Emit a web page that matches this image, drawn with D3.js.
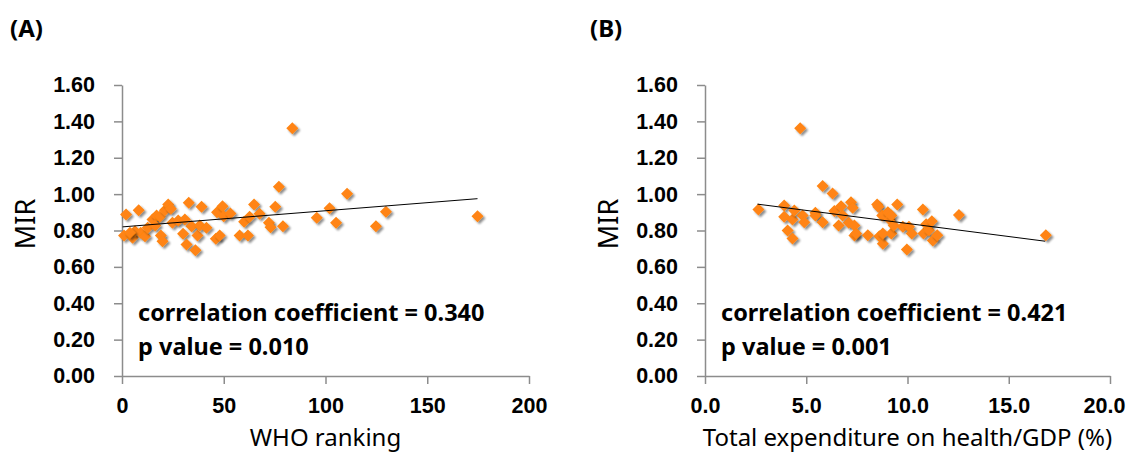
<!DOCTYPE html>
<html>
<head>
<meta charset="utf-8">
<script src="https://cdn.jsdelivr.net/npm/d3@7"></script>
<style>
  body { margin: 0; background: #fff; }
  svg { display: block; font-family: "Noto Sans", "Open Sans", sans-serif; }
  .tick text { font-weight: bold; font-size: 21.5px; fill: #000; }
  .domain, .tick line { stroke: #8c8c8c; stroke-width: 1.5px; }
</style>
</head>
<body>
<svg class="chart"></svg>
<script>
// Panel A: WHO ranking vs MIR
var whoRank = [2, 8.2, 1, 5.2, 6.4, 9.2, 11.3, 12.6, 15, 17, 16.3, 18.6, 19.1, 19.9, 21.1, 22.7, 24, 24.8,
    27.6, 30.9, 30, 31.7, 32.8, 34.2, 36.1, 37.1, 38.2, 39.1, 41.5, 46.1, 48, 46.7, 49.4, 50, 53.3, 57.8,
    61.9, 60, 62.7, 64.9, 67.6, 72.2, 73, 75.3, 77.1, 79.1, 83.7, 95.7, 102, 105.2, 110.6, 124.8, 129.7,
    174.7, 3.9];
var mirA = [0.888, 0.912, 0.772, 0.76, 0.796, 0.787, 0.769, 0.815, 0.861, 0.883, 0.828, 0.876, 0.772, 0.741,
    0.912, 0.943, 0.92, 0.842, 0.855, 0.861, 0.782, 0.723, 0.953, 0.824, 0.691, 0.772, 0.828, 0.93, 0.815,
    0.754, 0.772, 0.901, 0.934, 0.879, 0.894, 0.772, 0.772, 0.848, 0.876, 0.943, 0.892, 0.842, 0.818, 0.93,
    1.041, 0.824, 1.362, 0.87, 0.923, 0.842, 1.002, 0.824, 0.903, 0.879, 0.787];
var trendAX = [0.3, 174.7];
var trendAY = [0.82, 0.975];

// Panel B: total expenditure on health / GDP vs MIR
var thGdp = [2.64, 3.91, 3.91, 4.32, 4.41, 4.08, 4.32, 4.70, 4.82, 4.9, 5.45, 5.45, 5.81, 5.81, 6.3, 6.39,
    6.6, 6.72, 6.8, 7.21, 7.29, 7.1, 7.38, 7.38, 7.46, 8.04, 8.5, 8.56, 8.61, 8.78, 8.78, 8.75, 9.03, 9.11,
    9.2, 9.2, 9.32, 9.49, 9.77, 9.97, 10.07, 10.21, 10.76, 10.79, 10.92, 11.06, 11.2, 11.25, 11.47, 12.54, 16.83];
var mirB = [0.916, 0.938, 0.876, 0.861, 0.91, 0.8, 0.756, 1.362, 0.883, 0.846, 0.898, 0.883, 0.846, 1.045,
    1.004, 0.907, 0.828, 0.934, 0.883, 0.956, 0.925, 0.842, 0.828, 0.772, 0.783, 0.774, 0.943, 0.93, 0.769,
    0.727, 0.783, 0.883, 0.901, 0.861, 0.883, 0.783, 0.828, 0.943, 0.82, 0.695, 0.82, 0.783, 0.916, 0.783,
    0.834, 0.802, 0.851, 0.745, 0.774, 0.885, 0.774];
var trendBX = [2.59, 16.8];
var trendBY = [0.945, 0.741];

var yTicks = [0, 0.2, 0.4, 0.6, 0.8, 1.0, 1.2, 1.4, 1.6];
var xTicksA = [0, 50, 100, 150, 200];
var xTicksB = [0, 5, 10, 15, 20];

var svg = d3.select("svg.chart").attr("width", 1128).attr("height", 452);

var defs = svg.append("defs");
var shadow = defs.append("filter").attr("id", "shadow")
    .attr("x", "-50%").attr("y", "-50%").attr("width", "200%").attr("height", "200%");
shadow.append("feGaussianBlur").attr("in", "SourceAlpha").attr("stdDeviation", 1.2).attr("result", "b");
shadow.append("feOffset").attr("in", "b").attr("dx", 1.5).attr("dy", 1.5).attr("result", "o");
shadow.append("feComponentTransfer").attr("in", "o").attr("result", "s")
    .append("feFuncA").attr("type", "linear").attr("slope", 0.45);
var merge = shadow.append("feMerge");
merge.append("feMergeNode").attr("in", "s");
merge.append("feMergeNode").attr("in", "SourceGraphic");

function drawPanel(p) {
    var x = d3.scaleLinear().domain([p.xTicks[0], p.xTicks[p.xTicks.length - 1]]).range([p.left, p.right]);
    var y = d3.scaleLinear().domain([0, 1.6]).range([376, 85]);
    var g = svg.append("g");

    g.append("g").attr("transform", "translate(" + p.left + ",0)")
        .call(d3.axisLeft(y).tickValues(yTicks).tickFormat(d3.format(".2f")).tickSize(8).tickSizeOuter(0).tickPadding(19));
    var xAxis = g.append("g").attr("transform", "translate(0,376)")
        .call(d3.axisBottom(x).tickValues(p.xTicks).tickFormat(d3.format(p.fmt)).tickSize(8).tickSizeOuter(0).tickPadding(14));
    // keep the last tick label inside the page edge
    xAxis.selectAll(".tick text").filter(function (d, i, n) { return i === n.length - 1; })
        .attr("dx", p.lastDx || 0);

    var pts = p.xs.map(function (v, i) { return [v, p.ys[i]]; });
    g.selectAll("path.pt").data(pts).enter().append("path")
        .attr("class", "pt")
        .attr("d", "M0,-6L6,0L0,6L-6,0Z")
        .attr("transform", function (d) { return "translate(" + x(d[0]) + "," + y(d[1]) + ")"; })
        .attr("fill", "#ff8412")
        .attr("filter", "url(#shadow)");

    g.append("line")
        .attr("x1", x(p.tx[0])).attr("y1", y(p.ty[0]))
        .attr("x2", x(p.tx[1])).attr("y2", y(p.ty[1]))
        .attr("stroke", "#000").attr("stroke-width", 1);

    g.append("text").attr("x", p.panelX).attr("y", 37)
        .attr("font-weight", "bold").attr("font-size", 24).text(p.panel);
    g.append("text").attr("transform", "translate(" + p.mirX + ",224) rotate(-90)")
        .attr("text-anchor", "middle").attr("font-size", 27).text("MIR");
    g.append("text").attr("x", (p.left + p.right) / 2).attr("y", 446)
        .attr("text-anchor", "middle").attr("font-size", 24).text(p.xLabel);
    g.append("text").attr("x", p.left + 16).attr("y", 321)
        .attr("font-weight", "bold").attr("font-size", 23.5).text(p.r);
    g.append("text").attr("x", p.left + 16).attr("y", 355)
        .attr("font-weight", "bold").attr("font-size", 23.5).text(p.pv);
}

drawPanel({ left: 122, right: 529, xTicks: xTicksA, fmt: "d", xs: whoRank, ys: mirA, tx: trendAX, ty: trendAY,
    panel: "(A)", panelX: 10, mirX: 35, xLabel: "WHO ranking",
    r: "correlation coefficient = 0.340", pv: "p value = 0.010" });
drawPanel({ left: 705, right: 1110, xTicks: xTicksB, fmt: ".1f", xs: thGdp, ys: mirB, tx: trendBX, ty: trendBY,
    panel: "(B)", panelX: 590, mirX: 618, xLabel: "Total expenditure on health/GDP (%)", lastDx: -6,
    r: "correlation coefficient = 0.421", pv: "p value = 0.001" });
</script>
</body>
</html>
